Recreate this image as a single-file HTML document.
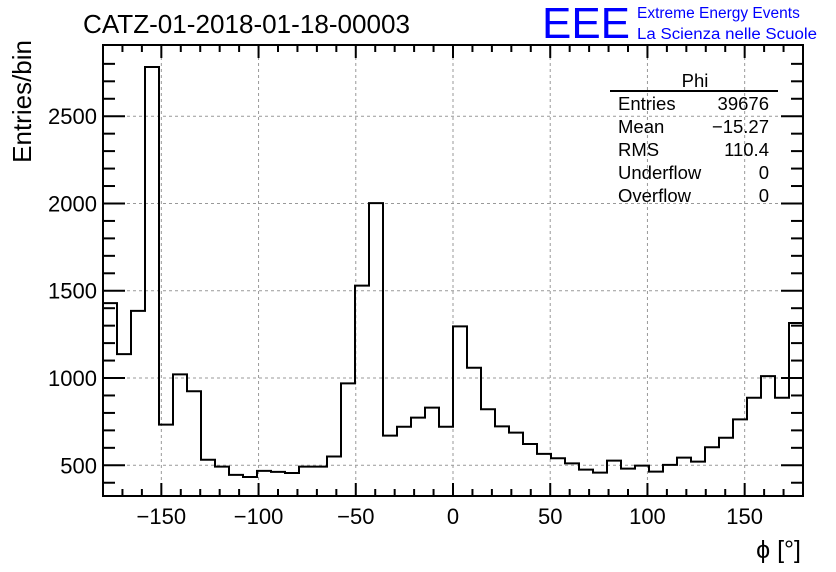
<!DOCTYPE html>
<html><head><meta charset="utf-8"><style>
body{margin:0;background:#fff;}
svg{display:block;font-family:"Liberation Sans",sans-serif;}
</style></head><body>
<svg id="c" width="836" height="572">
<rect width="836" height="572" fill="#fff"/>
<text x="83" y="33" font-size="25.5" textLength="327" lengthAdjust="spacingAndGlyphs">CATZ-01-2018-01-18-00003</text>
<text x="542" y="38" font-size="44" fill="#0000ff" textLength="88" lengthAdjust="spacingAndGlyphs">EEE</text>
<text x="637" y="18" font-size="15.5" fill="#0000ff">Extreme Energy Events</text>
<text x="637" y="39" font-size="15.5" fill="#0000ff" textLength="180" lengthAdjust="spacingAndGlyphs">La Scienza nelle Scuole</text>
<g id="grid"></g>
<g id="ticks"></g>
<g id="labels"></g>
<path id="hist" fill="none" stroke="#000" stroke-width="2"/>
<rect x="103" y="45" width="700" height="451" fill="none" stroke="#000" stroke-width="2"/>
<text transform="translate(31,40) rotate(-90)" text-anchor="end" font-size="26">Entries/bin</text>
<text x="801" y="558" text-anchor="end" font-size="25">ϕ [°]</text>
<g font-size="18.5">
<text x="695" y="87" text-anchor="middle">Phi</text>
<line x1="610" y1="91" x2="778" y2="91" stroke="#000" stroke-width="2"/>
<text x="618" y="110">Entries</text><text x="769" y="110" text-anchor="end">39676</text>
<text x="618" y="133">Mean</text><text x="769" y="133" text-anchor="end">−15.27</text>
<text x="618" y="156">RMS</text><text x="769" y="156" text-anchor="end">110.4</text>
<text x="618" y="179">Underflow</text><text x="769" y="179" text-anchor="end">0</text>
<text x="618" y="202">Overflow</text><text x="769" y="202" text-anchor="end">0</text>
</g>
</svg>
<script>
const counts=[1429,1137,1385,2782,733,1021,924,532,492,445,433,468,462,456,492,492,550,969,1529,2002,670,721,773,830,721,1296,1059,821,723,687,622,565,540,511,475,458,527,481,498,464,502,544,521,603,658,763,887,1011,887,1315];
const xTicks=[-150,-100,-50,0,50,100,150];
const yTicks=[500,1000,1500,2000,2500];
const X0=-180,X1=180,Y0=324,Y1=2908;
const L=103,R=803,T=45,B=496;
const sx=v=>L+(v-X0)/(X1-X0)*(R-L);
const sy=v=>B-(v-Y0)/(Y1-Y0)*(B-T);
const NS="http://www.w3.org/2000/svg";
function mk(tag,attrs,parent){const e=document.createElementNS(NS,tag);for(const k in attrs)e.setAttribute(k,attrs[k]);parent.appendChild(e);return e;}
const grid=document.getElementById('grid'),ticks=document.getElementById('ticks'),labels=document.getElementById('labels');
xTicks.forEach(v=>{const x=sx(v);
 const g=mk('line',{x1:x,y1:T,x2:x,y2:B,stroke:'#999','stroke-dasharray':'3,3','stroke-width':1},grid);
 
 
 const t=mk('text',{x:x,y:524,'text-anchor':'middle','font-size':22},labels);
 t.textContent=v<0?'−'+Math.abs(v):String(v);
 
 
});
yTicks.forEach(v=>{const y=sy(v);
 const g=mk('line',{x1:L,y1:y,x2:R,y2:y,stroke:'#999','stroke-dasharray':'3,3','stroke-width':1},grid);
 
 
 const t=mk('text',{x:97,y:y+8,'text-anchor':'end','font-size':22},labels);
 t.textContent=String(v);
 
 
});
for(let v=-170;v<180;v+=10){const x=sx(v);const len=(v%50===0)?13:7;
 mk('line',{x1:x,y1:B,x2:x,y2:B-len,stroke:'#000','stroke-width':2},ticks);
 mk('line',{x1:x,y1:T,x2:x,y2:T+len,stroke:'#000','stroke-width':2},ticks);}
for(let v=400;v<=2800;v+=100){const y=sy(v);const len=(v%500===0)?22:12;
 mk('line',{x1:L,y1:y,x2:L+len,y2:y,stroke:'#000','stroke-width':2},ticks);
 mk('line',{x1:R,y1:y,x2:R-len,y2:y,stroke:'#000','stroke-width':2},ticks);}
const w=(X1-X0)/counts.length;let d='';
counts.forEach((c,i)=>{const xa=sx(X0+i*w),xb=sx(X0+(i+1)*w),y=sy(c);d+=(i===0?'M':'L')+xa+','+y+'L'+xb+','+y;});
document.getElementById('hist').setAttribute('d',d);
</script>
</body></html>
